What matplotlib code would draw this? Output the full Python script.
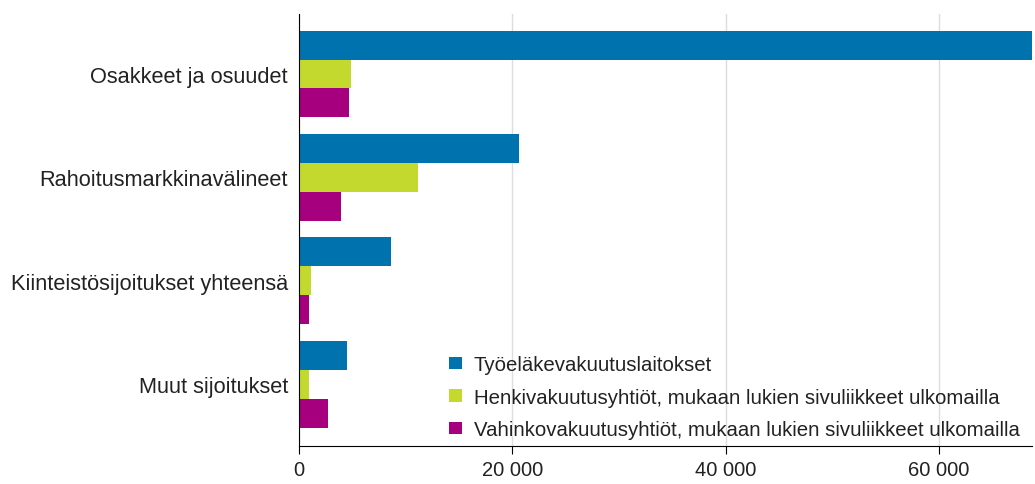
import numpy as np
import matplotlib.pyplot as plt
import matplotlib

matplotlib.rc("font", family=['Liberation Sans', 'DejaVu Sans'])

# data (milj. euroa, luettu kuvasta)
categories = ['Osakkeet ja osuudet', 'Rahoitusmarkkinavälineet',
              'Kiinteistösijoitukset yhteensä', 'Muut sijoitukset']
series = ['Työeläkevakuutuslaitokset',
          'Henkivakuutusyhtiöt, mukaan lukien sivuliikkeet ulkomailla',
          'Vahinkovakuutusyhtiöt, mukaan lukien sivuliikkeet ulkomailla']
tyoelake = [68700, 20600, 8600, 4500]
henki = [4850, 11100, 1150, 900]
vahinko = [4650, 3950, 950, 2700]
colors = ['#0072AE', '#C4D92E', '#A6007F']

fig, ax = plt.subplots(figsize=(10.35, 4.85), dpi=100)
fig.subplots_adjust(left=0.289, right=0.997, top=0.969, bottom=0.078)

y = np.arange(len(categories))
h = 0.28
for i, (vals, name) in enumerate(zip([tyoelake, henki, vahinko], series)):
    ax.barh(y + (i - 1) * h, vals, height=h, color=colors[i], label=name, zorder=3)

ax.set_yticks(y)
ax.set_yticklabels(categories, fontsize=15.7, color='#222222')
ax.set_ylim(3.6, -0.58)
ax.set_xlim(0, 68700)
ax.set_xticks([0, 20000, 40000, 60000])
ax.set_xticklabels(['0', '20 000', '40 000', '60 000'], fontsize=14.5, color='#222222')
ax.tick_params(axis='y', length=0, pad=8)
ax.tick_params(axis='x', length=6, direction='out', pad=4)

ax.grid(axis='x', color='#dddddd', linewidth=1, zorder=0)
for s in ['top', 'right']:
    ax.spines[s].set_visible(False)
ax.spines['left'].set_color('black')
ax.spines['bottom'].set_color('black')
ax.spines['left'].set_zorder(4)

leg = ax.legend(loc='lower left', bbox_to_anchor=(0.194, -0.003), frameon=False,
                fontsize=14.7, handlelength=0.6, handleheight=0.56,
                handletextpad=0.6, labelspacing=0.67, borderaxespad=0.0)
for t in leg.get_texts():
    t.set_color('#222222')

plt.savefig('out.png', dpi=100)
